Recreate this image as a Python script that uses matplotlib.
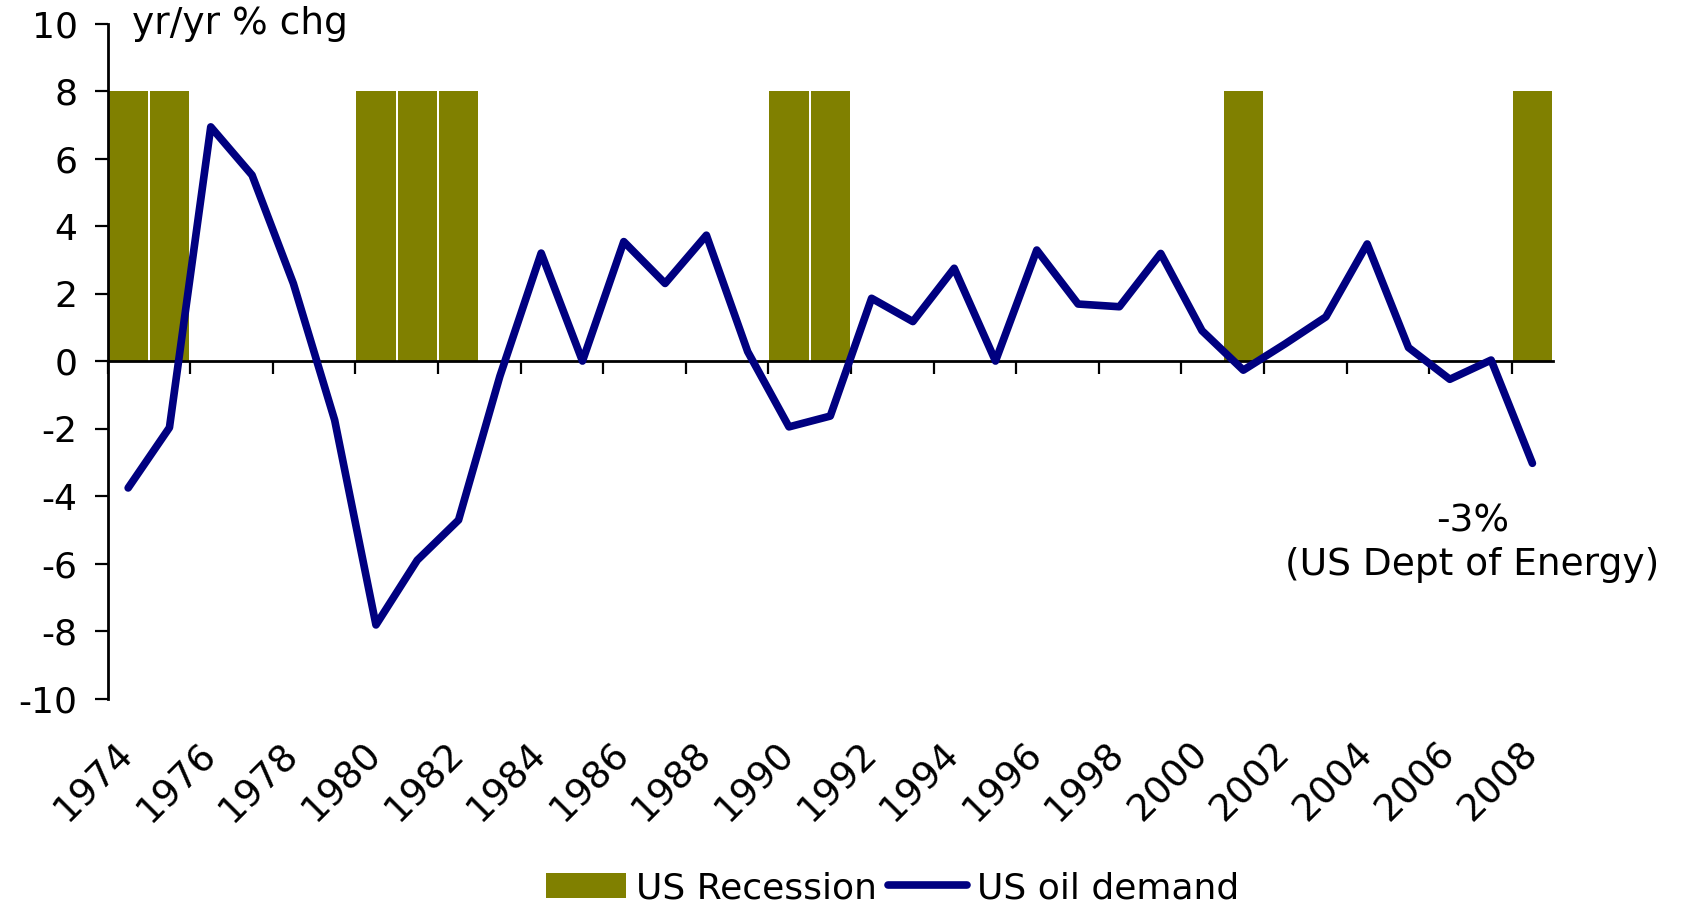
import matplotlib.pyplot as plt
import numpy as np

# ─────────────────────────────────────────────────────────────────────────────
# Data: US oil demand (yr/yr % chg) and US recession years
years = list(range(1974, 2009))
oil_demand = [-3.76, -1.97, 6.94, 5.51, 2.3, -1.75, -7.82, -5.9, -4.71, -0.45,
              3.2, 0.0, 3.54, 2.3, 3.73, 0.28, -1.95, -1.63, 1.86, 1.17,
              2.75, 0.0, 3.29, 1.69, 1.61, 3.19, 0.9, -0.27, 0.5, 1.31,
              3.47, 0.4, -0.54, 0.03, -3.03]
recession_years = [1974, 1975, 1980, 1981, 1982, 1990, 1991, 2001, 2008]
recession_level = 8

y_ticks = list(range(-10, 11, 2))
label_years = years[::2]
note_text = "-3%\n(US Dept of Energy)"

OLIVE = "#808000"
NAVY = "#000080"

plt.rcParams['font.family'] = ['DejaVu Sans']
FS = 26

# ─────────────────────────────────────────────────────────────────────────────
fig = plt.figure(figsize=(16.85, 9.08), dpi=100)
ax = fig.add_axes([0.0638, 0.2307, 0.8579, 0.7433])

x = np.arange(len(years))
rec = np.array([recession_level if y in recession_years else 0 for y in years])
bars = ax.bar(x, rec, width=0.95, color=OLIVE, zorder=1, label="US Recession")
line, = ax.plot(x, oil_demand, color=NAVY, lw=5.5, solid_joinstyle='round',
                solid_capstyle='round', zorder=3, label="US oil demand")

ax.set_xlim(-0.5, len(years) - 0.5)
ax.set_ylim(-10, 10)

# axes styling
for s in ("top", "right"):
    ax.spines[s].set_visible(False)
ax.spines["bottom"].set_position(("data", 0))
ax.spines["bottom"].set_linewidth(2)
ax.spines["bottom"].set_zorder(2)
ax.spines["left"].set_linewidth(2)

ax.set_yticks(y_ticks)
ax.set_yticklabels([str(v) for v in y_ticks], fontsize=FS)
ax.tick_params(axis="y", direction="out", length=9.5, width=1.6, pad=12)

ax.set_xticks(np.arange(-0.5, len(years) - 1, 2))
ax.set_xticklabels([])
ax.tick_params(axis="x", direction="out", length=9.5, width=1.6)

# year labels along the bottom of the plot
sec = ax.secondary_xaxis(0)
sec.spines["bottom"].set_visible(False)
sec.set_xticks(x[::2])
sec.set_xticklabels([str(y) for y in label_years], fontsize=27, rotation=45,
                    ha="right", va="center", rotation_mode="anchor")
sec.tick_params(axis="x", length=0, pad=36)

ax.text(0.017, 1.0, "yr/yr % chg", transform=ax.transAxes, fontsize=27,
        ha="left", va="center")
ax.text(x[-1] - 1.45, -5.4, note_text, fontsize=27, ha="center", va="center",
        multialignment="center", linespacing=1.3)

fig.legend(handles=[bars, line], loc="center", bbox_to_anchor=(0.53, 0.022),
           ncol=2, frameon=False, fontsize=FS, handlelength=2.2,
           handletextpad=0.28, columnspacing=0.3, borderaxespad=0)

plt.savefig("out.png", dpi=100)
